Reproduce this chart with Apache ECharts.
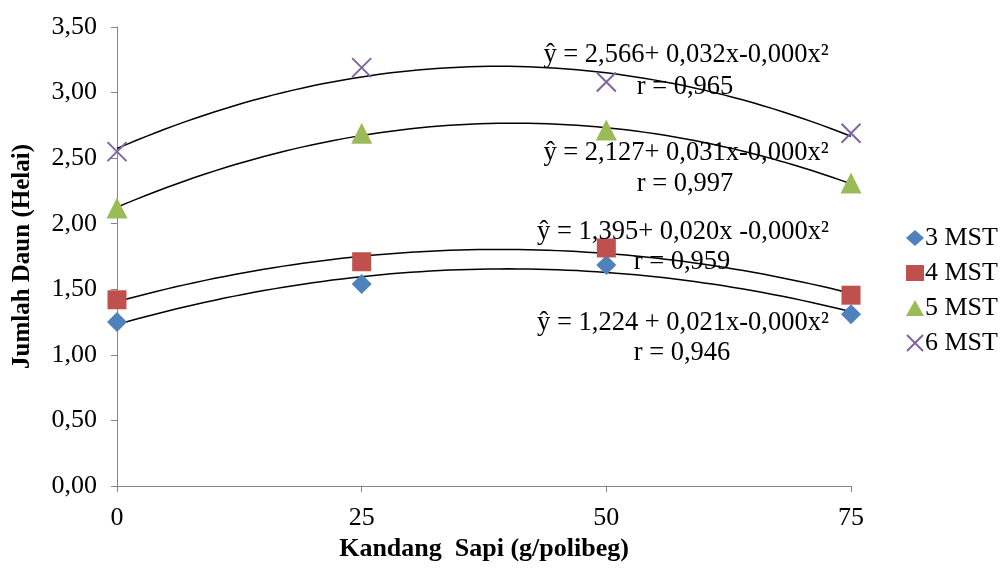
<!DOCTYPE html>
<html>
<head>
<meta charset="utf-8">
<script src="https://cdn.jsdelivr.net/npm/echarts@6/dist/echarts.min.js"></script>
<style>html,body{margin:0;padding:0;background:#fff}#c{width:1006px;height:570px}</style>
</head>
<body>
<div id="c"></div>
<script>
const doses = [0, 25, 50, 75];
const mst3 = [1.25, 1.54, 1.685, 1.31];
const mst4 = [1.42, 1.71, 1.815, 1.455];
const mst5 = [2.12, 2.69, 2.715, 2.31];
const mst6 = [2.55, 3.19, 3.08, 2.69];
const seriesNames = ['3 MST', '4 MST', '5 MST', '6 MST'];
const yTicks = [0, 0.5, 1, 1.5, 2, 2.5, 3, 3.5];
const equations = [
  ['ŷ = 2,566+ 0,032x-0,000x²', 'r = 0,965'],
  ['ŷ = 2,127+ 0,031x-0,000x²', 'r = 0,997'],
  ['ŷ = 1,395+ 0,020x -0,000x²', 'r = 0,959'],
  ['ŷ = 1,224 + 0,021x-0,000x²', 'r = 0,946']
];

// least squares quadratic fit of the plotted points (trendline)
function quadFit(xs, ys) {
  let S = [0,0,0,0,0], T = [0,0,0];
  for (let i = 0; i < xs.length; i++) {
    let p = 1;
    for (let k = 0; k < 5; k++) { S[k] += p; if (k < 3) T[k] += p * ys[i]; p *= xs[i]; }
  }
  const A = [[S[0],S[1],S[2],T[0]],[S[1],S[2],S[3],T[1]],[S[2],S[3],S[4],T[2]]];
  for (let i = 0; i < 3; i++) {
    for (let j = i + 1; j < 3; j++) {
      const f = A[j][i] / A[i][i];
      for (let k = i; k < 4; k++) A[j][k] -= f * A[i][k];
    }
  }
  const c = [0,0,0];
  for (let i = 2; i >= 0; i--) {
    let s = A[i][3];
    for (let k = i + 1; k < 3; k++) s -= A[i][k] * c[k];
    c[i] = s / A[i][i];
  }
  return c;
}
function trend(ys) {
  const c = quadFit(doses, ys);
  const pts = [];
  for (let x = doses[0]; x <= doses[doses.length - 1]; x += 1) pts.push([x, c[0] + c[1] * x + c[2] * x * x]);
  return pts;
}
const pair = ys => doses.map((x, i) => [x, ys[i]]);

const FONT = '"Liberation Serif", "Times New Roman", serif';
const colors = ['#4F81BD', '#C0504D', '#9BBB59', '#8064A2'];
const cross = 'path://M0,0L10,10M10,0L0,10';

const allVals = [mst3, mst4, mst5, mst6];
const symbols = ['diamond', 'rect', 'triangle', cross];
const sizes = [20, 19, 21, 19];

const series = [];
allVals.forEach((v, i) => {
  series.push({
    type: 'line', data: trend(v), showSymbol: false, symbol: 'none', silent: true,
    lineStyle: { color: '#000', width: 1.5 }, z: 3, legendHoverLink: false
  });
});
allVals.forEach((v, i) => {
  const s = {
    name: seriesNames[i], type: 'scatter', data: pair(v), symbol: symbols[i], symbolSize: sizes[i], z: 4,
    itemStyle: { color: colors[i], opacity: 1 }
  };
  if (i === 3) s.itemStyle = { color: 'rgba(0,0,0,0)', borderColor: colors[i], borderWidth: 2, opacity: 1 };
  series.push(s);
});

const eqPos = [[686, 55, 685, 87], [686, 153, 685, 184], [683, 232, 682, 262], [683, 323, 682, 353]];
const graphics = [];
equations.forEach((e, i) => {
  const p = eqPos[i];
  graphics.push({ type: 'text', x: p[0], y: p[1], z: 10, style: { text: e[0], align: 'center', verticalAlign: 'middle', fontSize: 26.5, fontFamily: FONT, fill: '#000' } });
  graphics.push({ type: 'text', x: p[2], y: p[3], z: 10, style: { text: e[1], align: 'center', verticalAlign: 'middle', fontSize: 26.5, fontFamily: FONT, fill: '#000' } });
});

const chart = echarts.init(document.getElementById('c'), null, { renderer: 'canvas' });
chart.setOption({
  animation: false,
  backgroundColor: '#fff',
  grid: { left: 117, right: 155, top: 27, bottom: 84, containLabel: false },
  legend: {
    data: seriesNames.map((n, i) => ({ name: n, icon: i === 3 ? cross : symbols[i] })),
    orient: 'vertical', left: 901, top: 220, itemGap: 9, itemWidth: 18, itemHeight: 16,
    textStyle: { fontSize: 26, fontFamily: FONT, color: '#000', padding: [0, 0, 0, -4] },
    selectedMode: false
  },
  xAxis: {
    type: 'value', min: 0, max: 75, interval: 25,
    name: 'Kandang  Sapi (g/polibeg)', nameLocation: 'middle', nameGap: 50,
    nameTextStyle: { fontSize: 26, fontWeight: 'bold', fontFamily: FONT, color: '#000' },
    axisLine: { show: true, onZero: false, lineStyle: { color: '#868686', width: 1 } },
    axisTick: { show: true, inside: false, length: 6, lineStyle: { color: '#868686' } },
    axisLabel: { fontSize: 26, fontFamily: FONT, color: '#000', margin: 19 },
    splitLine: { show: false }
  },
  yAxis: {
    type: 'value', min: yTicks[0], max: yTicks[yTicks.length - 1], interval: 0.5,
    name: 'Jumlah Daun (Helai)', nameLocation: 'middle', nameGap: 82, nameRotate: 90,
    nameTextStyle: { fontSize: 25, fontWeight: 'bold', fontFamily: FONT, color: '#000' },
    axisLine: { show: true, lineStyle: { color: '#868686', width: 1 } },
    axisTick: { show: true, inside: false, length: 6, lineStyle: { color: '#868686' } },
    axisLabel: { fontSize: 26, fontFamily: FONT, color: '#000', margin: 20, formatter: v => v.toFixed(2).replace('.', ',') },
    splitLine: { show: false }
  },
  series: series,
  graphic: graphics
});
</script>
</body>
</html>
